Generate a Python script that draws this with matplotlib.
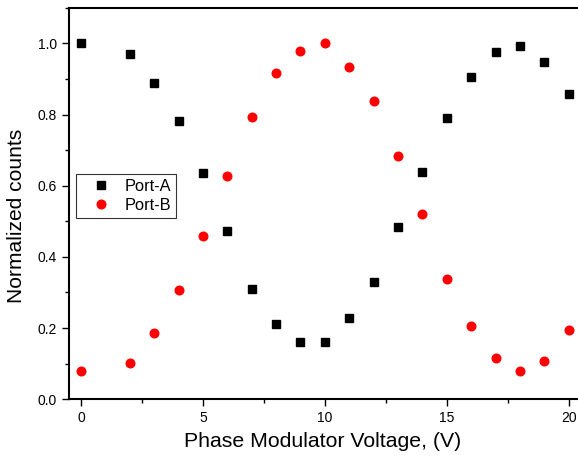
import matplotlib
matplotlib.use('Agg')
import matplotlib.pyplot as plt
from matplotlib.ticker import MultipleLocator

plt.rcParams['font.family'] = ['Liberation Sans', 'DejaVu Sans']

# phase modulator voltage (V)
x_a = [0, 2, 3, 4, 5, 6, 7, 8, 9, 10, 11, 12, 13, 14, 15, 16, 17, 18, 19, 20]
port_a = [1.000, 0.970, 0.889, 0.782, 0.637, 0.473, 0.310, 0.212, 0.161, 0.160,
          0.228, 0.330, 0.485, 0.639, 0.789, 0.905, 0.977, 0.994, 0.947, 0.858]
x_b = [0, 2, 3, 4, 5, 6, 7, 8, 9, 10, 11, 12, 13, 14, 15, 16, 17, 18, 19, 20]
port_b = [0.078, 0.101, 0.185, 0.308, 0.460, 0.626, 0.794, 0.917, 0.978, 1.000,
          0.933, 0.839, 0.683, 0.520, 0.338, 0.205, 0.115, 0.078, 0.108, 0.194]

fig = plt.figure(figsize=(5.78, 4.62), dpi=100)
ax = fig.add_axes([0.119, 0.136, 0.886, 0.847])

ax.plot(x_a, port_a, 's', color='black', markersize=5.8, linestyle='none', label='Port-A')
ax.plot(x_b, port_b, 'o', color='red', markersize=6.2, linestyle='none', label='Port-B')

ax.set_xlim(-0.5, 20.5)
ax.set_ylim(0, 1.1)
ax.xaxis.set_major_locator(MultipleLocator(5))
ax.xaxis.set_minor_locator(MultipleLocator(2.5))
ax.yaxis.set_major_locator(MultipleLocator(0.2))
ax.yaxis.set_minor_locator(MultipleLocator(0.1))
ax.set_yticklabels([f'{v:.1f}' for v in ax.get_yticks()])
ax.tick_params(which='both', direction='out', top=False, right=False, labelsize=10, width=1)
ax.tick_params(which='major', length=5)
ax.tick_params(which='minor', length=3)
for s in ax.spines.values():
    s.set_linewidth(1.5)

ax.set_xlabel('Phase Modulator Voltage, (V)', fontsize=15.3, va='center')
ax.xaxis.set_label_coords(0.495, -0.107)
ax.set_ylabel('Normalized counts', fontsize=15.1, va='center')
ax.yaxis.set_label_coords(-0.103, 0.468)

leg = ax.legend(loc='upper left', bbox_to_anchor=(0.014, 0.575), borderaxespad=0,
                fontsize=11.8, frameon=True, fancybox=False, edgecolor='black',
                borderpad=0.3, handletextpad=0.24, labelspacing=0.25, handlelength=2.45)
leg.get_frame().set_linewidth(0.8)

fig.savefig('out.png', dpi=100)
